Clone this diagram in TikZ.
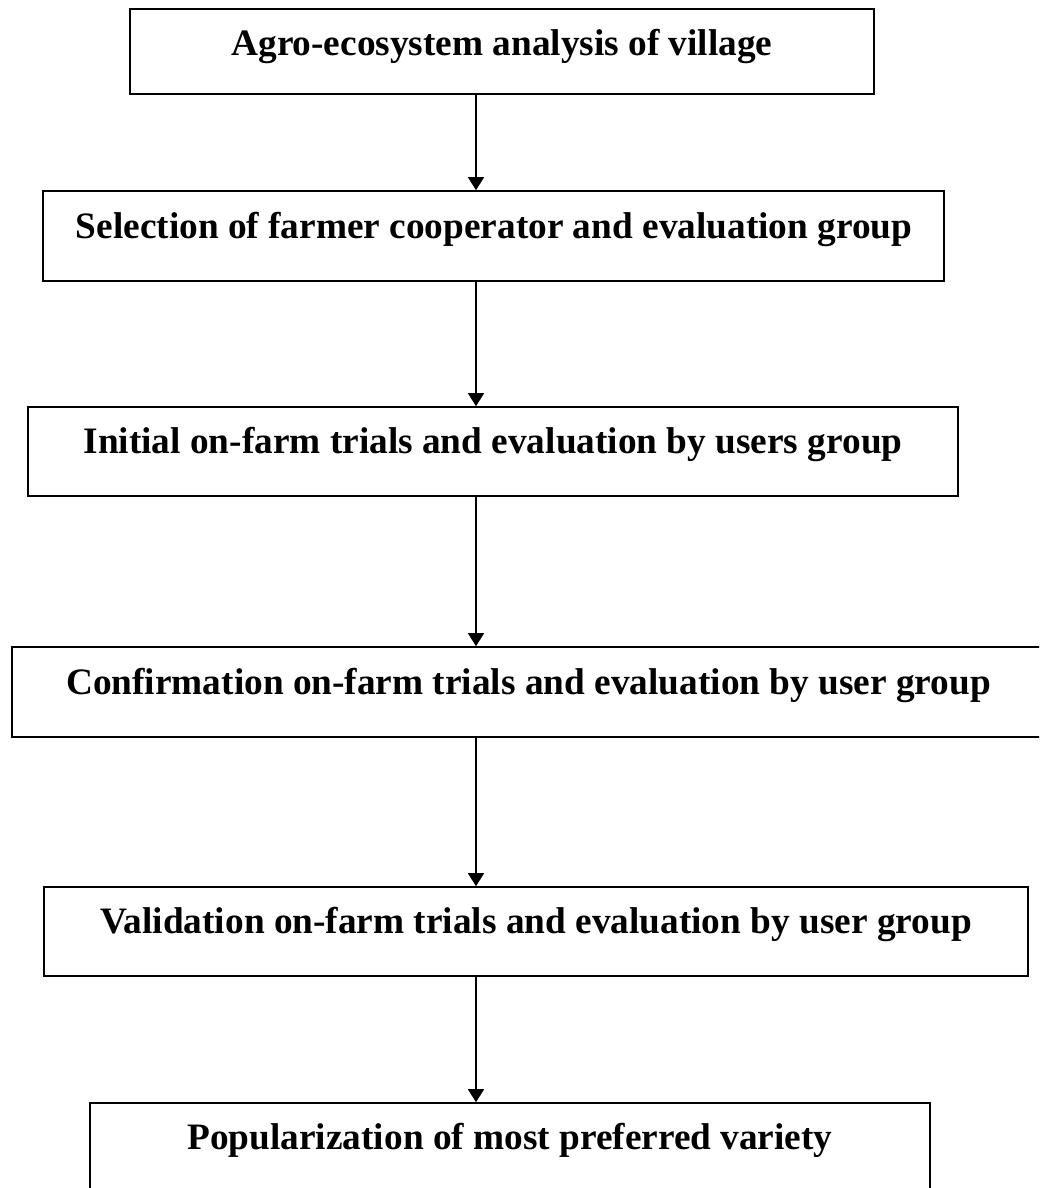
\documentclass[tikz,border=0pt]{standalone}
\usepackage{fontspec}
\setmainfont{Liberation Serif}
\usetikzlibrary{arrows.meta}
\begin{document}
\begin{tikzpicture}[x=1pt,y=-1pt,
  box/.style={draw,line width=1.6pt,rectangle,inner sep=0pt},
  lbl/.style={anchor=base,inner sep=0pt,font=\fontsize{37.3}{42}\selectfont\bfseries},
  arr/.style={line width=1.3pt,-{Triangle[length=13pt,width=16pt]}}]
\clip (0,0) rectangle (1039,1188);
\fill[white] (0,0) rectangle (1039,1188);
\coordinate (ax) at (476,0);
% boxes: center, width, height
\node[box,minimum width=744pt,minimum height=85pt] (b1) at (502,51.5) {};
\node[box,minimum width=901pt,minimum height=90pt] (b2) at (493.5,236) {};
\node[box,minimum width=930pt,minimum height=89pt] (b3) at (493,451.5) {};
\node[box,minimum width=1033pt,minimum height=90pt] (b4) at (528.5,692) {};
\node[box,minimum width=984pt,minimum height=89pt] (b5) at (536,931.5) {};
\node[box,minimum width=840pt,minimum height=120pt] (b6) at (510,1163) {};
% labels
\node[lbl] (t1) at (502,56) {Agro-ecosystem analysis of village};
\node[lbl] (t2) at (494,238) {Selection of farmer cooperator and evaluation group};
\node[lbl] (t3) at (493,453) {Initial on-farm trials and evaluation by users group};
\node[lbl] (t4) at (528.5,694) {Confirmation on-farm trials and evaluation by user group};
\node[lbl] (t5) at (536,933) {Validation on-farm trials and evaluation by user group};
\node[lbl] (t6) at (510,1149) {Popularization of most preferred variety};
% arrows
\draw[arr] (b1.south -| ax) -- (b2.north -| ax);
\draw[arr] (b2.south -| ax) -- (b3.north -| ax);
\draw[arr] (b3.south -| ax) -- (b4.north -| ax);
\draw[arr] (b4.south -| ax) -- (b5.north -| ax);
\draw[arr] (b5.south -| ax) -- (b6.north -| ax);
\end{tikzpicture}
\end{document}
